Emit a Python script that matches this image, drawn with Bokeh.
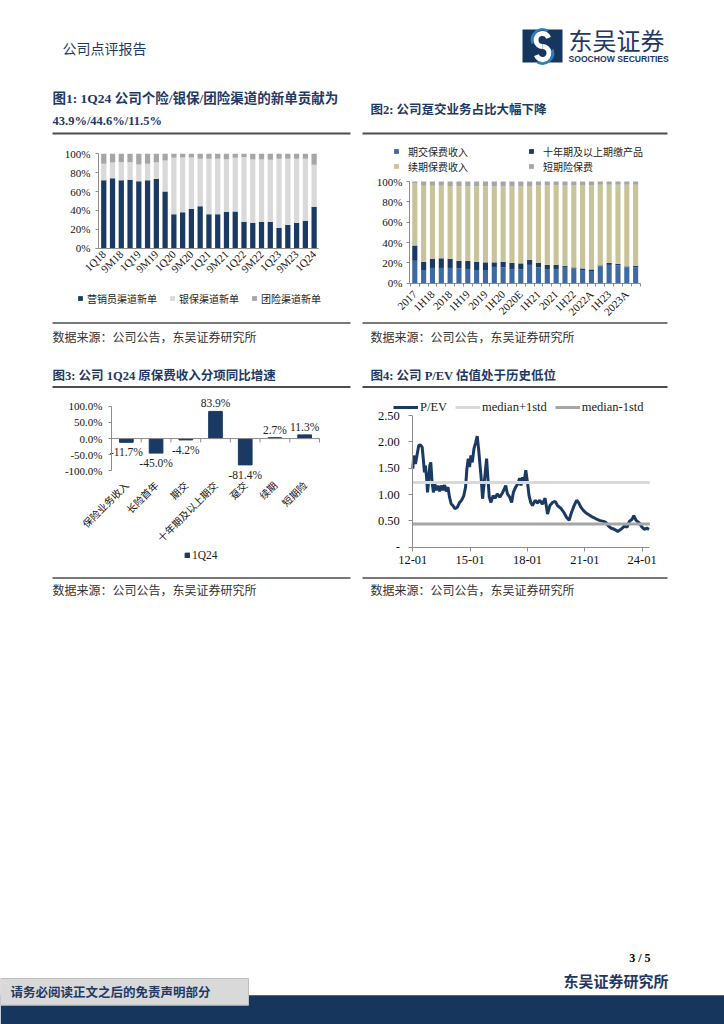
import math
from bokeh.plotting import figure
from bokeh.models import (Range1d, ColumnDataSource, Legend, LegendItem, FixedTicker,
                          PrintfTickFormatter, NumeralTickFormatter, LinearAxis)
from bokeh.core.properties import value
from bokeh.embed import file_html
from bokeh.resources import INLINE

# ---------------- data ----------------
# Fig 1: new business contribution by channel (%)
periods1 = ["1Q18", "1H18", "9M18", "2018", "1Q19", "1H19", "9M19", "2019",
            "1Q20", "1H20", "9M20", "2020", "1Q21", "1H21", "9M21", "2021",
            "1Q22", "1H22", "9M22", "2022", "1Q23", "1H23", "9M23", "2023", "1Q24"]
agent1 = [72, 74, 72, 72.5, 71, 72, 73.5, 60, 36, 38, 41.5, 44.5, 36, 36, 38.5, 39,
          28, 27, 28, 28, 21.5, 24.5, 27, 29, 43.9]
bank1 = [17.5, 16.8, 19, 18.5, 17.7, 17.4, 17.5, 33, 59.8, 58, 54.5, 50.2, 58.7, 58.7,
         55.8, 56.8, 68.5, 67, 66, 65.6, 73.2, 70.2, 67.7, 65.7, 44.6]
group1 = [10.5, 9.2, 9, 9, 11.3, 10.6, 9, 7, 4.2, 4, 4, 5.3, 5.3, 5.3, 5.7, 4.2,
          3.5, 6, 6, 6.4, 5.3, 5.3, 5.3, 5.3, 11.5]
legend1 = ["营销员渠道新单", "银保渠道新单", "团险渠道新单"]

# Fig 2: premium structure (%)
periods2 = ["2017", "1Q18", "1H18", "3Q18", "2018", "1Q19", "1H19", "3Q19", "2019",
            "1Q20", "1H20", "3Q20", "2020E", "1Q21", "1H21", "3Q21", "2021", "1Q22",
            "1H22", "3Q22", "2022A", "1Q23", "1H23", "3Q23", "2023A", "1Q24"]
single2 = [22, 13, 15, 15, 15, 14.5, 14, 13, 13, 16, 15.5, 14, 13.5, 18, 15.5, 14, 14,
           16, 14.5, 13, 12, 16.5, 18, 17.5, 15.5, 15.5]
tenyr2 = [15, 8, 9, 9.5, 9, 7.5, 8, 8, 7.5, 4.5, 5.5, 6, 6, 5, 4.5, 4, 4, 1, 1, 1.5,
          1.5, 1, 2, 1.5, 1, 1.5]
renew2 = [61, 74.8, 71.8, 71.3, 71.5, 73.5, 73.3, 74.3, 74.8, 74.5, 74, 75, 75.5, 72.5,
          76, 78, 78.3, 79.5, 81, 82, 83, 79.3, 76.8, 77.8, 80.3, 79.8]
short2 = [2, 4.2, 4.2, 4.2, 4.5, 4.5, 4.7, 4.7, 4.7, 5, 5, 5, 5, 4.5, 4, 4, 3.7, 3.5,
          3.5, 3.5, 3.5, 3.2, 3.2, 3.2, 3.2, 3.2]
legend2 = ["期交保费收入", "十年期及以上期缴产品", "续期保费收入", "短期险保费"]

# Fig 3: 1Q24 premium growth yoy (%)
cats3 = ["保险业务收入", "长险首年", "期交", "十年期及以上期交", "趸交", "续期", "短期险"]
yoy3 = [-11.7, -45.0, -4.2, 83.9, -81.4, 2.7, 11.3]
legend3 = "1Q24"

# Fig 4: P/EV history (decimal year, value)
pev_year = [2012.00, 2012.05, 2012.14, 2012.23, 2012.31, 2012.40, 2012.49, 2012.54, 2012.61,
            2012.66, 2012.72, 2012.77, 2012.82, 2012.89, 2012.94, 2013.01, 2013.08, 2013.15,
            2013.22, 2013.31, 2013.40, 2013.49, 2013.57, 2013.66, 2013.75, 2013.84, 2013.92,
            2014.01, 2014.10, 2014.20, 2014.33, 2014.45, 2014.55, 2014.67, 2014.76, 2014.83,
            2014.90, 2014.97, 2015.04, 2015.11, 2015.20, 2015.29, 2015.37, 2015.44, 2015.51,
            2015.58, 2015.65, 2015.72, 2015.79, 2015.86, 2015.93, 2016.00, 2016.09, 2016.20,
            2016.30, 2016.42, 2016.55, 2016.69, 2016.79, 2016.86, 2016.95, 2017.07, 2017.17,
            2017.26, 2017.38, 2017.49, 2017.59, 2017.66, 2017.73, 2017.82, 2017.91, 2018.00,
            2018.08, 2018.17, 2018.26, 2018.40, 2018.52, 2018.64, 2018.78, 2018.92, 2019.05,
            2019.17, 2019.31, 2019.45, 2019.57, 2019.74, 2019.92, 2020.04, 2020.18, 2020.30,
            2020.44, 2020.57, 2020.67, 2020.79, 2020.92, 2021.06, 2021.23, 2021.41, 2021.58,
            2021.76, 2021.97, 2022.10, 2022.24, 2022.38, 2022.54, 2022.72, 2022.89, 2023.07,
            2023.21, 2023.33, 2023.47, 2023.56, 2023.68, 2023.85, 2023.99, 2024.12, 2024.24,
            2024.36]
pev = [1.49, 1.74, 1.58, 1.77, 1.93, 1.94, 1.90, 1.71, 1.42,
       1.55, 1.33, 1.04, 1.23, 1.55, 1.61, 1.23, 1.04, 1.20,
       1.08, 1.17, 1.06, 1.17, 1.08, 1.18, 1.06, 1.14, 0.95,
       0.82, 0.79, 0.73, 0.76, 0.85, 0.89, 0.98, 1.14, 1.49,
       1.68, 1.52, 1.74, 1.61, 1.87, 1.99, 2.11, 1.87, 1.58,
       1.30, 0.92, 1.17, 1.42, 1.68, 1.30, 0.95, 0.85, 0.98,
       0.93, 1.01, 0.95, 1.03, 1.11, 1.17, 1.01, 0.95, 0.85,
       1.04, 1.14, 1.20, 1.31, 1.17, 1.33, 1.23, 1.46, 1.23,
       0.98, 0.85, 0.79, 0.89, 0.84, 0.89, 0.82, 0.93, 0.63,
       0.79, 0.85, 0.87, 0.79, 0.74, 0.65, 0.57, 0.51, 0.66,
       0.79, 0.89, 0.85, 0.76, 0.70, 0.65, 0.61, 0.57, 0.54,
       0.51, 0.49, 0.47, 0.40, 0.36, 0.34, 0.30, 0.34, 0.40,
       0.38, 0.49, 0.53, 0.60, 0.51, 0.46, 0.38, 0.34, 0.36,
       0.34]
band_year = [2012.0, 2024.4]
med_plus = [1.23, 1.23]
med_minus = [0.44, 0.44]
legend4 = ["P/EV", "median+1std", "median-1std"]
x_ticks4 = [2012, 2015, 2018, 2021, 2024]
x_labels4 = ["12-01", "15-01", "18-01", "21-01", "24-01"]

# ---------------- styles ----------------
SERIF = "Liberation Serif"
CJK = "Noto Sans CJK SC"
MIX = "Liberation Serif, Noto Sans CJK SC"
NAVY = "#1b3a63"
TNAVY = "#1f3864"
AX = "#8c8c8c"
RULE = "#4d4d4d"
W, H = 724, 1024

# One page-sized canvas; every chart gets its own scales (extra ranges)
p = figure(width=W, height=H, x_range=Range1d(0, W), y_range=Range1d(H, 0),
           x_axis_location=None, y_axis_location=None, min_border=0,
           outline_line_color=None, output_backend="svg", toolbar_location=None)
p.grid.visible = False


def xr(d0, d1, P0, P1):
    k = (d1 - d0) / (P1 - P0)
    return Range1d(d0 - P0 * k, d1 + (W - P1) * k)


def yr(v0, v1, Y0, Y1):
    k = (v1 - v0) / (Y0 - Y1)
    return Range1d(v0 - (H - Y0) * k, v1 + Y1 * k)


def txt(x, y, s, size, font=CJK, color="#333333", style="normal", align="left"):
    p.text(x=[x], y=[y], text=[s], text_font=value(font), text_font_size=f"{size}px",
           text_color=color, text_font_style=style, text_align=align, text_baseline="middle")


def rule(x0, x1, y, w=1.8, c=RULE):
    p.segment(x0=[x0], y0=[y], x1=[x1], y1=[y], line_width=w, line_color=c)


def axis(side, xn, yn, loc, bounds, ticks, size="11px", **kw):
    ax = LinearAxis(x_range_name=xn, y_range_name=yn, fixed_location=loc, bounds=bounds,
                    ticker=ticks, axis_line_color=AX, major_tick_line_color=AX,
                    minor_tick_line_color=None, major_label_text_font=SERIF,
                    major_label_text_color="#111111", major_label_text_font_size=size,
                    major_tick_in=0, major_tick_out=3)
    for k, v in kw.items():
        setattr(ax, k, v)
    p.add_layout(ax, side)
    return ax


def legend(items, x, ybottom, font, size, gw, gh, standoff, spacing, lh=13, **kw):
    lg = Legend(items=items, location=(x, H - ybottom), orientation="horizontal",
                padding=0, margin=0, border_line_color=None, background_fill_alpha=0,
                label_text_font=font, label_text_font_size=f"{size}px",
                label_text_color="#222222", glyph_width=gw, glyph_height=gh,
                label_standoff=standoff, spacing=spacing, label_height=lh, **kw)
    p.add_layout(lg, "center")
    return lg


# ---------------- header ----------------
txt(62, 47, "公司点评报告", 14, color=TNAVY)
p.quad(left=[522], right=[562], top=[29], bottom=[62], fill_color="#17365d", line_color=None)
p.arc(x=[542], y=[39.5], radius=10.5, start_angle=math.radians(60), end_angle=math.radians(200),
      line_color="#2d7fc1", line_width=2.5)
p.arc(x=[542], y=[52.5], radius=10.5, start_angle=math.radians(240), end_angle=math.radians(20),
      line_color="#2d7fc1", line_width=2.5)
p.arc(x=[542], y=[39.5], radius=6.5, start_angle=math.radians(20), end_angle=math.radians(270),
      line_color="white", line_width=5)
p.arc(x=[542], y=[52.5], radius=6.5, start_angle=math.radians(200), end_angle=math.radians(90),
      line_color="white", line_width=5)
txt(568, 39, "东吴证券", 24, color=TNAVY)
txt(568, 58, "SOOCHOW SECURITIES", 8.6, font="Liberation Sans", color=TNAVY, style="bold")

# ---------------- titles ----------------
txt(52, 98, "图1: 1Q24 公司个险/银保/团险渠道的新单贡献为", 13.5, font=MIX, color=TNAVY, style="bold")
txt(52, 120, "43.9%/44.6%/11.5%", 12.5, font=SERIF, color=TNAVY, style="bold")
rule(52, 350, 133)
txt(370, 109, "图2: 公司趸交业务占比大幅下降", 12.5, font=MIX, color=TNAVY, style="bold")
rule(362, 667, 133)
txt(52, 375, "图3: 公司 1Q24 原保费收入分项同比增速", 12.5, font=MIX, color=TNAVY, style="bold")
rule(52, 350, 386.5)
txt(370, 375, "图4: 公司 P/EV 估值处于历史低位", 12.5, font=MIX, color=TNAVY, style="bold")
rule(362, 667, 386.5)

# sources
for sx, ry, ty, rx0, rx1 in [(52, 322.5, 336, 52, 350), (370, 322.5, 336, 362, 667),
                             (52, 577.5, 589, 52, 350), (370, 577.5, 589, 362, 667)]:
    rule(rx0, rx1, ry, 1.5)
    txt(sx, ty, "数据来源：公司公告，东吴证券研究所", 12)

# ---------------- chart 1 ----------------
x1 = list(range(len(periods1)))
p.extra_x_ranges["c1x"] = xr(-0.6, 24.5, 98, 318)
p.extra_y_ranges["c1y"] = yr(0, 100, 247.7, 153.3)
src1 = ColumnDataSource(dict(x=x1, agent=agent1, bank=bank1, group=group1))
r1 = p.vbar_stack(["agent", "bank", "group"], x="x", width=0.6, source=src1,
                  color=[NAVY, "#d9d9d9", "#a6a6a6"], line_color=None,
                  x_range_name="c1x", y_range_name="c1y")
axis("left", "c1x", "c1y", -0.6, (0, 100), FixedTicker(ticks=[0, 20, 40, 60, 80, 100]),
     formatter=PrintfTickFormatter(format="%d%%"), major_label_standoff=5)
axis("below", "c1x", "c1y", 0, (-0.6, 24.5), FixedTicker(ticks=x1[::2]),
     major_label_overrides={i: periods1[i] for i in x1[::2]},
     major_label_orientation=math.pi / 4, major_tick_out=0, major_label_standoff=4)
legend([LegendItem(label=l, renderers=[r]) for l, r in zip(legend1, r1)],
       77, 305.5, CJK, 10, 6, 6, 4, 12, 12)

# ---------------- chart 2 ----------------
x2 = list(range(len(periods2)))
p.extra_x_ranges["c2x"] = xr(-0.6, 25.55, 409, 640)
p.extra_y_ranges["c2y"] = yr(0, 100, 282.7, 181)
src2 = ColumnDataSource(dict(x=x2, single=single2, tenyr=tenyr2, renew=renew2, short=short2))
r2 = p.vbar_stack(["single", "tenyr", "renew", "short"], x="x", width=0.58, source=src2,
                  color=["#3e6aa3", NAVY, "#c9c39a", "#a6a6a6"], line_color=None,
                  x_range_name="c2x", y_range_name="c2y")
axis("left", "c2x", "c2y", -0.6, (0, 100), FixedTicker(ticks=[0, 20, 40, 60, 80, 100]),
     formatter=PrintfTickFormatter(format="%d%%"), major_label_standoff=4)
axis("below", "c2x", "c2y", 0, (-0.6, 25.55),
     FixedTicker(ticks=x2[::2], minor_ticks=[i - 0.5 for i in range(len(periods2) + 1)]),
     major_label_overrides={i: periods2[i] for i in x2[::2]},
     major_label_orientation=math.pi / 4, major_tick_out=0, minor_tick_line_color=AX,
     minor_tick_in=0, minor_tick_out=3, major_label_standoff=6)
legend([LegendItem(label=legend2[0], renderers=[r2[0]]),
        LegendItem(label=legend2[1], renderers=[r2[1]])],
       393, 158.5, CJK, 10, 6, 6, 9, 2, 13, label_width=118)
legend([LegendItem(label=legend2[2], renderers=[r2[2]]),
        LegendItem(label=legend2[3], renderers=[r2[3]])],
       393, 173.5, CJK, 10, 6, 6, 9, 2, 13, label_width=118)

# ---------------- chart 3 ----------------
x3 = list(range(len(cats3)))
p.extra_x_ranges["c3x"] = xr(-0.5, 6.5, 111, 319)
p.extra_y_ranges["c3y"] = yr(-100, 100, 470.4, 405.7)
r3 = p.vbar(x=x3, top=yoy3, width=0.46, color=NAVY, x_range_name="c3x", y_range_name="c3y")
lab3 = [f"{v:.1f}%" for v in yoy3]
off3 = [-8 if v >= 0 else 10 for v in yoy3]
p.text(x=x3, y=yoy3, text=lab3, y_offset=off3, text_align="center", text_baseline="middle",
       text_font=value(SERIF), text_font_size="11.5px", text_color="#222222",
       x_range_name="c3x", y_range_name="c3y")
bounds3 = [i - 0.5 for i in range(len(cats3) + 1)]
p.segment(x0=[bounds3[0]], y0=[0], x1=[bounds3[-1]], y1=[0], line_color=AX, line_width=1,
          x_range_name="c3x", y_range_name="c3y")
p.segment(x0=bounds3, y0=[0] * len(bounds3), x1=bounds3, y1=[-12] * len(bounds3),
          line_color=AX, line_width=1, x_range_name="c3x", y_range_name="c3y")
axis("left", "c3x", "c3y", -0.5, (-100, 100), FixedTicker(ticks=[-100, -50, 0, 50, 100]),
     formatter=PrintfTickFormatter(format="%.1f%%"), major_label_standoff=6)
axis("below", "c3x", "c3y", -100, (-0.5, 6.5), FixedTicker(ticks=x3), size="10px",
     major_label_overrides={i: cats3[i] for i in x3}, major_label_text_font=CJK,
     major_label_orientation=math.pi / 4, axis_line_color=None, major_tick_line_color=None,
     major_tick_out=0, major_label_standoff=12)
legend([LegendItem(label=legend3, renderers=[r3])], 184, 561.5, SERIF, 11.5, 6, 6, 2, 0)

# ---------------- chart 4 ----------------
p.extra_x_ranges["c4x"] = xr(2012.0, 2024.0, 412.3, 641.7)
p.extra_y_ranges["c4y"] = yr(0, 2.5, 546.7, 415)
rp = p.line(x=pev_year, y=pev, line_width=3, line_color=NAVY, x_range_name="c4x", y_range_name="c4y")
rh = p.line(x=band_year, y=med_plus, line_width=3, line_color="#d9d9d9",
            x_range_name="c4x", y_range_name="c4y")
rl = p.line(x=band_year, y=med_minus, line_width=3, line_color="#a6a6a6",
            x_range_name="c4x", y_range_name="c4y")
axis("left", "c4x", "c4y", 2012.0, (0, 2.5), FixedTicker(ticks=[0, 0.5, 1.0, 1.5, 2.0, 2.5]),
     size="12.5px", formatter=NumeralTickFormatter(format="0.00"),
     major_label_overrides={0: "-"}, major_tick_out=4, major_label_standoff=9)
axis("below", "c4x", "c4y", 0, (2012.0, 2024.4), FixedTicker(ticks=x_ticks4), size="12.5px",
     major_label_overrides=dict(zip(x_ticks4, x_labels4)), major_tick_out=4,
     major_label_standoff=5)
legend([LegendItem(label=l, renderers=[r]) for l, r in zip(legend4, [rp, rh, rl])],
       393, 414.7, SERIF, 12.5, 25, 8, 2, 8, 14)

# ---------------- footer ----------------
txt(650, 957, "3 / 5", 12, font=SERIF, color="#000000", style="bold", align="right")
txt(668, 980, "东吴证券研究所", 15, color=TNAVY, style="bold", align="right")
p.quad(left=[0], right=[W], top=[994.7], bottom=[H], fill_color="#17365d", line_color=None)
p.quad(left=[0], right=[248], top=[978], bottom=[1004.7], fill_color="#d9d9d9", line_color="#bfbfbf")
txt(10, 991, "请务必阅读正文之后的免责声明部分", 12.5, color=TNAVY, style="bold")

open("out.html", "w").write(file_html(p, INLINE))
